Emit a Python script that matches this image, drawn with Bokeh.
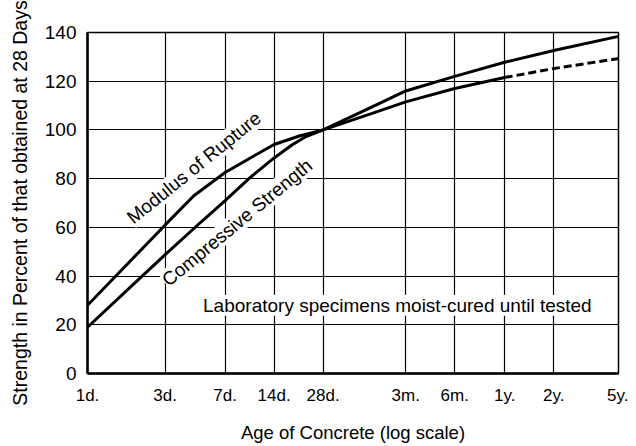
from bokeh.plotting import figure
from bokeh.models import Range1d, FixedTicker, Label
from bokeh.embed import file_html
from bokeh.resources import INLINE

# ---- data (age in days, strength in % of 28-day value) ----
tick_days = [1, 3, 7, 14, 28, 90, 180, 365, 730, 1825]
tick_labels = ["1d.", "3d.", "7d.", "14d.", "28d.", "3m.", "6m.", "1y.", "2y.", "5y."]
y_ticks = [0, 20, 40, 60, 80, 100, 120, 140]

cs_days = [1, 2, 3, 5, 7, 10, 14, 18, 22, 28, 56, 90, 180, 365, 730, 1825]
cs_vals = [19, 37.8, 48.8, 62.3, 71, 80.5, 88.5, 93.8, 97.3, 100, 109.5, 116, 122, 127.8, 132.6, 138.4]

mor_days = [1, 3, 4.5, 7, 10, 14, 20, 28, 56, 90, 180, 365]
mor_vals = [28, 61, 73, 82.5, 88.5, 94, 97.5, 100, 106.8, 111.5, 117, 121.5]

mor_ext_days = [365, 730, 1825]
mor_ext_vals = [121.5, 125.2, 129.3]

FONT = "Liberation Sans"

p = figure(
    frame_width=531, frame_height=341,
    min_border_left=87, min_border_top=32, min_border_right=10, min_border_bottom=10,
    x_axis_type="log",
    x_range=Range1d(1, 1825), y_range=Range1d(0, 140),
    output_backend="svg", toolbar_location=None,
    background_fill_color="white", border_fill_color="white",
)

p.outline_line_color = "black"
p.outline_line_width = 1.5

# axes
p.xaxis.ticker = FixedTicker(ticks=tick_days)
p.xaxis.major_label_overrides = {d: l for d, l in zip(tick_days, tick_labels)}
p.yaxis.ticker = FixedTicker(ticks=y_ticks)
for ax in (p.xaxis[0], p.yaxis[0]):
    ax.axis_line_color = "black"
    ax.axis_line_width = 2.5
    ax.major_tick_line_color = None
    ax.minor_tick_line_color = None
    ax.major_label_text_font = FONT
    ax.major_label_text_color = "black"
    ax.axis_label_text_font = FONT
    ax.axis_label_text_font_style = "normal"
    ax.axis_label_text_color = "black"

p.xaxis.major_label_text_font_size = "17px"
p.xaxis.major_label_standoff = 6
p.xaxis.axis_label = "Age of Concrete (log scale)"
p.xaxis.axis_label_text_font_size = "18.5px"
p.xaxis.axis_label_standoff = 14

p.yaxis.major_label_text_font_size = "19px"
p.yaxis.major_label_standoff = 5
p.yaxis.axis_label = "Strength in Percent of that obtained at 28 Days"
p.yaxis.axis_label_text_font_size = "19.5px"
p.yaxis.axis_label_standoff = 11

# grid
p.xgrid.ticker = FixedTicker(ticks=tick_days)
p.ygrid.ticker = FixedTicker(ticks=y_ticks)
for g in (p.xgrid[0], p.ygrid[0]):
    g.grid_line_color = "black"
    g.grid_line_width = 1.2
    g.grid_line_alpha = 1.0

# text annotations (white boxes interrupt the grid but stay under the curves)
def add_label(x, y, text, angle):
    lab = Label(x=x, y=y, text=text, angle=angle,
                text_font=FONT, text_font_size="19px", text_color="black",
                text_align="center", text_baseline="middle",
                background_fill_color="white", level="underlay")
    p.add_layout(lab)

add_label(4.5, 84.5, "Modulus of Rupture", 0.68)
add_label(8.3, 62, "Compressive Strength", 0.69)
add_label(80, 28, "Laboratory specimens moist-cured until tested", 0)

# curves
p.line(cs_days, cs_vals, line_color="black", line_width=3)
p.line(mor_days, mor_vals, line_color="black", line_width=3)
p.line(mor_ext_days, mor_ext_vals, line_color="black", line_width=3, line_dash="8 4")

open("out.html", "w").write(file_html(p, INLINE))
